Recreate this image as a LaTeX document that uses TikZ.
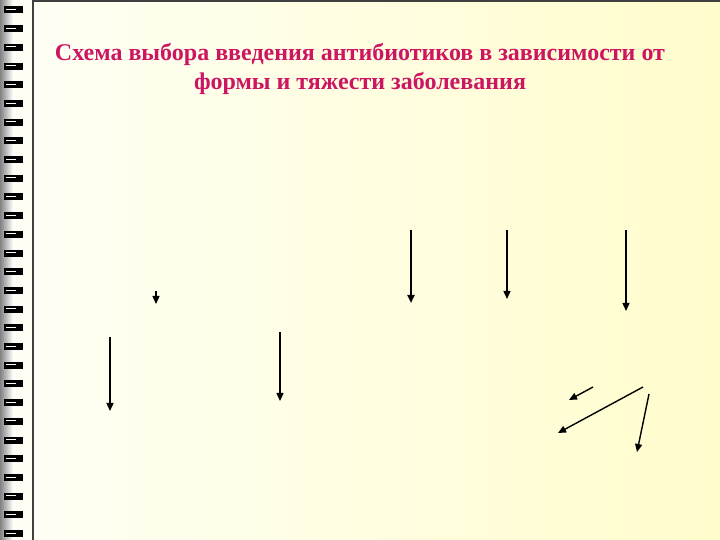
\documentclass[tikz,border=0pt]{standalone}
\usepackage{fontspec}
\setmainfont{Liberation Serif}
\usetikzlibrary{arrows.meta}
\definecolor{titlepink}{RGB}{204,22,98}
\definecolor{pagewhite}{RGB}{255,254,244}
\definecolor{pageyellow}{RGB}{255,253,204}
\definecolor{ringgrey}{RGB}{130,130,130}
\tikzset{
  arr/.style={line width=1.4pt, -{Triangle[length=8pt,width=7pt]}},
  thickarr/.style={arr, line width=2.4pt},
  coil/.style={fill=black},
}
\begin{document}
\begin{tikzpicture}[x=1pt,y=1pt]
    \useasboundingbox (0,0) rectangle (720,540);
    % binding strip
    \shade[left color=ringgrey, right color=white] (0,0) rectangle (13,540);
    \fill[white!96!yellow] (13,0) rectangle (33,540);
    % page
    \shade[left color=pagewhite, right color=pageyellow] (33,0) rectangle (720,539);
    \draw[line width=1.5pt, black!75] (33,0) -- (33,539) -- (720,539);
    % rings
    \foreach \k in {0,...,28} {
      \fill[coil] (4,{540-10-18.7*\k-3.5}) rectangle (23,{540-10-18.7*\k+3.5});
      \draw[white, line width=0.8pt] (6,{540-10-18.7*\k+0.5}) -- (16,{540-10-18.7*\k+0.5});
    }
    \node[text=titlepink, font=\bfseries\fontsize{24}{29}\selectfont, align=center]
      (title) at (360,471) {Схема выбора введения антибиотиков в зависимости от\\формы и тяжести заболевания};
    % arrows
    \foreach \n/\xa/\ya/\xb/\yb in {1/156/249/156/236, 2/110/203/110/129, 3/280/208/280/139,
        5/507/310/507/241, 6/626/310/626/229, 7/593/153/569/140, 8/643/153/558/107, 9/649/146/637/88} {
      \coordinate (s\n) at (\xa,\ya);
      \coordinate (e\n) at (\xb,\yb);
      \draw[arr] (s\n) -- (e\n);
    }
    \coordinate (s4) at (411,310);
    \coordinate (e4) at (411,237);
    \draw[thickarr] (s4) -- (e4);
\end{tikzpicture}
\end{document}
